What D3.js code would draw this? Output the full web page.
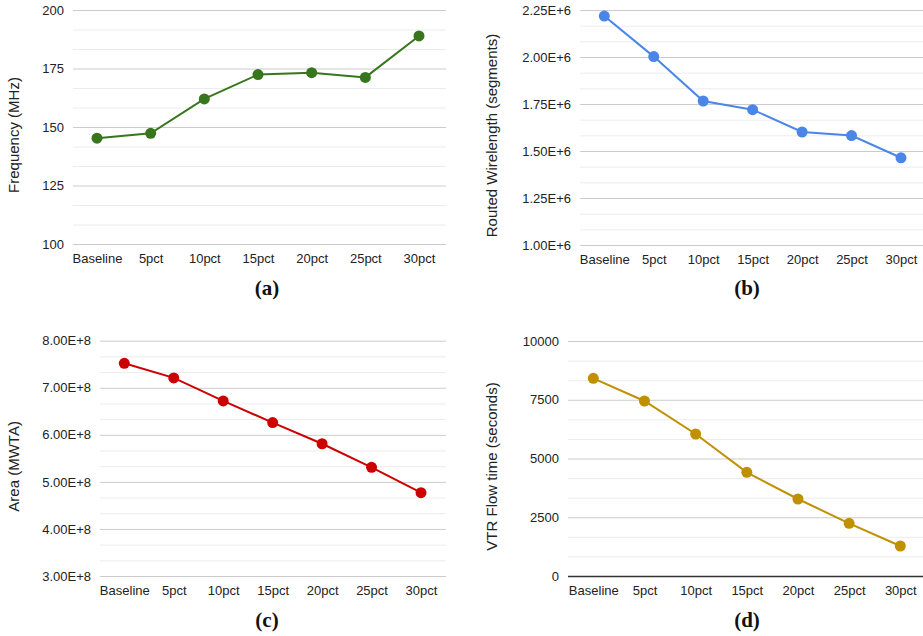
<!DOCTYPE html>
<html>
<head>
<meta charset="utf-8">
<script src="https://cdn.jsdelivr.net/npm/d3@7"></script>
<style>
  html, body { margin: 0; padding: 0; background: #fff; }
  svg { display: block; }
  .tick text { font-family: "Liberation Sans", Arial, sans-serif; font-size: 13px; fill: #222; }
  .ytitle { font-family: "Liberation Sans", Arial, sans-serif; font-size: 15px; fill: #222; }
  .plabel { font-family: "Liberation Serif", "Times New Roman", serif; font-size: 21px; font-weight: bold; fill: #111; }
</style>
</head>
<body>
<svg id="chart" width="923" height="636"></svg>
<script>
// ---- data ----
const categories = ["Baseline", "5pct", "10pct", "15pct", "20pct", "25pct", "30pct"];

const frequency  = [145.2, 147.3, 162.0, 172.4, 173.2, 171.2, 188.9];            // MHz
const wirelength = [2.218e6, 2.002e6, 1.766e6, 1.720e6, 1.601e6, 1.582e6, 1.464e6]; // segments
const area       = [7.52e8, 7.21e8, 6.72e8, 6.26e8, 5.81e8, 5.31e8, 4.77e8];     // MWTA
const flowTime   = [8413, 7447, 6043, 4411, 3277, 2241, 1277];                    // seconds

const freqTicks  = [100, 125, 150, 175, 200];
const wireTicks  = [1.00e6, 1.25e6, 1.50e6, 1.75e6, 2.00e6, 2.25e6];
const areaTicks  = [3e8, 4e8, 5e8, 6e8, 7e8, 8e8];
const flowTicks  = [0, 2500, 5000, 7500, 10000];

const freqLabels = ["100", "125", "150", "175", "200"];
const wireLabels = ["1.00E+6", "1.25E+6", "1.50E+6", "1.75E+6", "2.00E+6", "2.25E+6"];
const areaLabels = ["3.00E+8", "4.00E+8", "5.00E+8", "6.00E+8", "7.00E+8", "8.00E+8"];
const flowLabels = ["0", "2500", "5000", "7500", "10000"];

const titles = ["Frequency (MHz)", "Routed Wirelength (segments)", "Area (MWTA)", "VTR Flow time (seconds)"];
const panelLabels = ["(a)", "(b)", "(c)", "(d)"];

// ---- layout ----
const svg = d3.select("#chart");

const panels = [
  { values: frequency,  ticks: freqTicks, labels: freqLabels, title: titles[0], label: panelLabels[0], color: "#38761d",
    gx: [73, 446],  px: [97, 419],     py: [244, 10],    titleX: 14,  labelX: 267, labelY: 295, zeroLine: false },
  { values: wirelength, ticks: wireTicks, labels: wireLabels, title: titles[1], label: panelLabels[1], color: "#4a86e8",
    gx: [580, 923], px: [604.3, 901],  py: [245, 10],    titleX: 492, labelX: 747, labelY: 295, zeroLine: false },
  { values: area,       ticks: areaTicks, labels: areaLabels, title: titles[2], label: panelLabels[2], color: "#cc0000",
    gx: [100, 446], px: [124.3, 421],  py: [576, 340.7], titleX: 14,  labelX: 267, labelY: 627, zeroLine: false },
  { values: flowTime,   ticks: flowTicks, labels: flowLabels, title: titles[3], label: panelLabels[3], color: "#bf9000",
    gx: [568, 923], px: [593.3, 900.3], py: [576, 341],  titleX: 492, labelX: 747, labelY: 627, zeroLine: true }
];

panels.forEach(p => {
  const g = svg.append("g");
  const y = d3.scaleLinear().domain(d3.extent(p.ticks)).range(p.py);
  const x = d3.scalePoint().domain(categories).range(p.px).padding(0);
  const w = p.gx[1] - p.gx[0];

  // minor gridlines (3 subdivisions per major interval)
  const minor = [];
  for (let i = 0; i < p.ticks.length - 1; i++) {
    const a = p.ticks[i], b = p.ticks[i + 1];
    minor.push(a + (b - a) / 3, a + 2 * (b - a) / 3);
  }
  const minorAxis = g.append("g").attr("transform", `translate(${p.gx[0]},0)`)
    .call(d3.axisLeft(y).tickValues(minor).tickSize(-w).tickFormat(""));
  minorAxis.select(".domain").remove();
  minorAxis.selectAll("line").attr("stroke", "#ececec").attr("stroke-width", 1);

  // major gridlines + labels
  const majorAxis = g.append("g").attr("transform", `translate(${p.gx[0]},0)`)
    .call(d3.axisLeft(y).tickValues(p.ticks).tickSize(-w).tickPadding(9)
      .tickFormat((d, i) => p.labels[i]));
  majorAxis.select(".domain").remove();
  majorAxis.selectAll("line").attr("stroke", "#cccccc").attr("stroke-width", 1);
  if (p.zeroLine) {
    majorAxis.selectAll(".tick").filter(d => d === 0).select("line")
      .attr("stroke", "#333").attr("stroke-width", 1.3);
  }

  // x axis labels
  const xAxis = g.append("g").attr("transform", `translate(0,${p.py[0]})`)
    .call(d3.axisBottom(x).tickSize(0).tickPadding(10));
  xAxis.select(".domain").remove();

  // line
  const line = d3.line().x((d, i) => x(categories[i])).y(d => y(d));
  g.append("path").datum(p.values)
    .attr("d", line).attr("fill", "none")
    .attr("stroke", p.color).attr("stroke-width", 2);

  // points
  g.selectAll("circle.pt").data(p.values).enter().append("circle")
    .attr("class", "pt")
    .attr("cx", (d, i) => x(categories[i]))
    .attr("cy", d => y(d))
    .attr("r", 5.5)
    .attr("fill", p.color);

  // y title
  const cy = (p.py[0] + p.py[1]) / 2 + 8;
  g.append("text").attr("class", "ytitle")
    .attr("transform", `translate(${p.titleX},${cy}) rotate(-90)`)
    .attr("text-anchor", "middle").attr("dy", "0.35em")
    .text(p.title);

  // panel label
  g.append("text").attr("class", "plabel")
    .attr("x", p.labelX).attr("y", p.labelY)
    .attr("text-anchor", "middle")
    .text(p.label);
});
</script>
</body>
</html>
